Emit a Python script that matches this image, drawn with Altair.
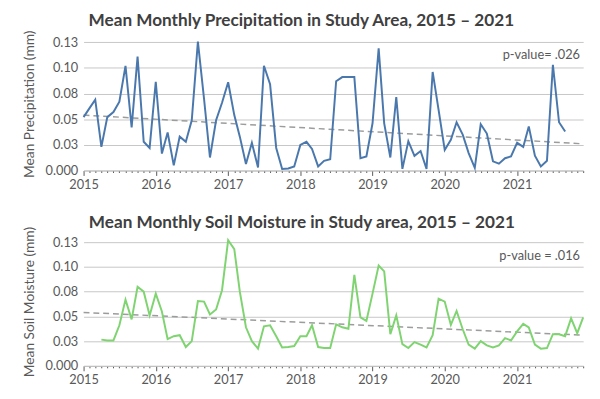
import altair as alt
import pandas as pd

# ---------------- data ----------------
precip_start = "2015-01-01"
precip_values = [
    0.052, 0.061, 0.069, 0.023, 0.052, 0.057, 0.067, 0.102, 0.042, 0.111, 0.028, 0.022,
    0.0865, 0.0165, 0.037, 0.005, 0.033, 0.028, 0.049, 0.1256, 0.070, 0.0127, 0.049, 0.066,
    0.086, 0.054, 0.033, 0.0064, 0.027, 0.003, 0.102, 0.084, 0.022, 0.0016, 0.002, 0.004,
    0.025, 0.028, 0.021, 0.004, 0.0095, 0.011, 0.087, 0.091, 0.091, 0.091, 0.012, 0.0137,
    0.046, 0.119, 0.046, 0.0127, 0.0716, 0.0016, 0.0286, 0.0143, 0.019, 0.0016, 0.096, 0.059,
    0.020, 0.030, 0.047, 0.035, 0.017, 0.0026, 0.045, 0.036, 0.009, 0.0067, 0.012, 0.0138,
    0.027, 0.023, 0.043, 0.0144, 0.004, 0.0096, 0.103, 0.047, 0.038,
]

soil_start = "2015-04-01"
soil_values = [
    0.0265, 0.0257, 0.0257, 0.041, 0.067, 0.047, 0.080, 0.075, 0.051,
    0.073, 0.055, 0.027, 0.030, 0.031, 0.019, 0.025, 0.0655, 0.065, 0.052, 0.057, 0.0765,
    0.127, 0.118, 0.075, 0.039, 0.025, 0.0175, 0.040, 0.041, 0.030, 0.0185, 0.019, 0.020,
    0.030, 0.030, 0.041, 0.019, 0.018, 0.018, 0.042, 0.039, 0.0375, 0.092, 0.049, 0.0455,
    0.073, 0.1015, 0.0955, 0.032, 0.051, 0.022, 0.018, 0.024, 0.0214, 0.0187, 0.031, 0.068,
    0.065, 0.0415, 0.0555, 0.037, 0.0214, 0.0174, 0.025, 0.0207, 0.0187, 0.0207, 0.028, 0.0257,
    0.0348, 0.0424, 0.0388, 0.0214, 0.0174, 0.018, 0.032, 0.032, 0.030, 0.048, 0.033, 0.049,
]

trend_dates = ["2015-01-01", "2021-12-01"]
precip_trend = [0.054, 0.026]
soil_trend = [0.054, 0.031]

y_ticks = [0, 0.025, 0.05, 0.075, 0.1, 0.125]
y_tick_labels = ["0.000", "0.03", "0.05", "0.08", "0.10", "0.13"]

precip_title = "Mean Monthly Precipitation in Study Area, 2015 \u2013 2021"
soil_title = "Mean Monthly Soil Moisture in Study area, 2015 \u2013 2021"
precip_ytitle = "Mean Precipitation (mm)"
soil_ytitle = "Mean Soil Moisture (mm)"
precip_note = ["2021-11-15", 0.112, "p-value= .026"]
soil_note = ["2021-11-15", 0.111, "p-value = .016"]

# ---------------- styling ----------------
FONT = "Lato"
TXT = "#595959"
TITLE_C = "#404040"
GRID = "#c6c6c6"
BLUE = "#4a78ad"
GREEN = "#7fd471"
TREND = "#9c9c9c"


def monthly(start, values):
    dates = pd.date_range(start, periods=len(values), freq="MS").strftime("%Y-%m-%d")
    return pd.DataFrame({"date": dates, "value": values})


label_expr = "[{}][indexof([{}], round(datum.value * 1000))]".format(
    ",".join("'" + s + "'" for s in y_tick_labels),
    ",".join(str(int(round(v * 1000))) for v in y_ticks),
)

x_scale = alt.Scale(
    type="utc",
    domain=[alt.DateTime(year=2015, month=1, date=1, utc=True),
            alt.DateTime(year=2021, month=12, date=1, utc=True)],
)
x_axis = alt.Axis(
    title=None,
    grid=False,
    tickCount={"interval": "month", "step": 1},
    labelExpr="utcmonth(datum.value) == 0 ? utcFormat(datum.value, '%Y') : ''",
    labelOverlap=False,
    labelFlush=False,
    labelBound=False,
    labelFont=FONT,
    labelFontSize=13,
    labelColor=TXT,
    labelPadding=3,
    domainColor="#bfbfbf",
    domainWidth=1,
    tickColor="#595959",
    tickWidth=1,
    tickSize={"condition": {"test": "utcmonth(datum.value) == 0", "value": 5}, "value": 2},
)


def y_axis(title):
    return alt.Axis(
        title=title,
        values=y_ticks,
        labelExpr=label_expr,
        labelOverlap=False,
        domain=False,
        ticks=False,
        grid=True,
        gridColor=GRID,
        gridWidth=1,
        labelFont=FONT,
        labelFontSize=13,
        labelColor=TXT,
        labelPadding=6,
        titleFont=FONT,
        titleFontSize=14,
        titleFontWeight="normal",
        titleColor=TXT,
        titlePadding=9,
    )


def panel(values, start, trend, color, title, ytitle, note, height, offset):
    df = monthly(start, values)
    tdf = pd.DataFrame({"date": trend_dates, "value": trend})
    ndf = pd.DataFrame({"date": [note[0]], "value": [note[1]], "label": [note[2]]})
    y_scale = alt.Scale(domain=[0, 0.13], nice=False)
    xenc = alt.X("date:T", scale=x_scale, axis=x_axis)
    yenc = alt.Y("value:Q", scale=y_scale, axis=y_axis(ytitle))

    tr = alt.Chart(tdf).mark_line(color=TREND, strokeDash=[6, 4], strokeWidth=1.5).encode(
        x=xenc, y=yenc,
    )
    line = alt.Chart(df).mark_line(color=color, strokeWidth=2).encode(
        x=xenc, y=yenc,
    )
    txt = alt.Chart(ndf).mark_text(
        align="right", baseline="middle", font=FONT, fontSize=13, color=TXT
    ).encode(
        x=xenc, y=yenc, text="label:N",
    )
    return alt.layer(tr, line, txt).properties(
        width=509,
        height=height,
        title=alt.TitleParams(
            text=title, font=FONT, fontSize=17.5, fontWeight="bold", color=TITLE_C,
            anchor="middle", frame="bounds", offset=offset, dx=-3,
        ),
    )


top = panel(precip_values, precip_start, precip_trend, BLUE, precip_title, precip_ytitle, precip_note, 136, 1)
bottom = panel(soil_values, soil_start, soil_trend, GREEN, soil_title, soil_ytitle, soil_note, 131, -5)

chart = (
    alt.vconcat(top, bottom, spacing=23)
    .properties(padding={"left": 14, "top": 0, "right": 5, "bottom": 0}, background="white")
    .configure_view(stroke=None)
)

chart.save("out.html", embed_options={"renderer": "svg", "actions": False})
